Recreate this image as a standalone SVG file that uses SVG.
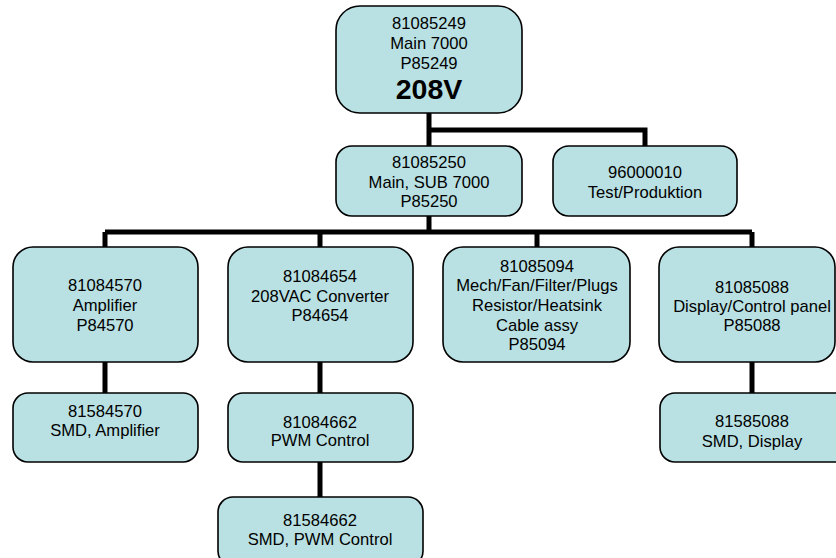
<svg xmlns="http://www.w3.org/2000/svg" width="836" height="558" viewBox="0 0 836 558">
<style>
.box{fill:#B9E0E3;stroke:#000;stroke-width:1.6}
.t{font-family:"Liberation Sans",Arial,sans-serif;font-size:16.6px;fill:#000;text-anchor:middle}
.big{font-family:"Liberation Sans",Arial,sans-serif;font-size:28.5px;font-weight:bold;fill:#000;text-anchor:middle}
.c{stroke:#000;stroke-width:5;fill:none}
</style>
<rect width="836" height="558" fill="#fff"/>
<g id="connectors">
<path class="c" d="M429 113V146M429 130H645V146M429 216V232M105 232H752M105 232V247M320 232V247M537 232V247M752 232V247M105 362V393M320 362V393M320 462V497M752 362V393"/>
</g>
<g id="n81085249">
<rect class="box" x="336" y="6" width="186" height="107" rx="24"/>
<text class="t" x="429" y="29">81085249</text>
<text class="t" x="429" y="49">Main 7000</text>
<text class="t" x="429" y="69">P85249</text>
<text class="big" x="429" y="99">208V</text>
</g>
<g id="n81085250">
<rect class="box" x="336" y="146" width="186" height="70" rx="16"/>
<text class="t" x="429" y="168">81085250</text>
<text class="t" x="429" y="188">Main, SUB 7000</text>
<text class="t" x="429" y="207">P85250</text>
</g>
<g id="n96000010">
<rect class="box" x="553" y="146" width="184" height="70" rx="16"/>
<text class="t" x="645" y="178">96000010</text>
<text class="t" x="645" y="198">Test/Produktion</text>
</g>
<g id="n81084570">
<rect class="box" x="13" y="247" width="185" height="115" rx="20"/>
<text class="t" x="105" y="291">81084570</text>
<text class="t" x="105" y="311">Amplifier</text>
<text class="t" x="105" y="331">P84570</text>
</g>
<g id="n81084654">
<rect class="box" x="228" y="247" width="185" height="115" rx="20"/>
<text class="t" x="320" y="282">81084654</text>
<text class="t" x="320" y="302">208VAC Converter</text>
<text class="t" x="320" y="321">P84654</text>
</g>
<g id="n81085094">
<rect class="box" x="443" y="247" width="187" height="115" rx="20"/>
<text class="t" x="537" y="272">81085094</text>
<text class="t" x="537" y="291">Mech/Fan/Filter/Plugs</text>
<text class="t" x="537" y="311">Resistor/Heatsink</text>
<text class="t" x="537" y="331">Cable assy</text>
<text class="t" x="537" y="350">P85094</text>
</g>
<g id="n81085088">
<rect class="box" x="659" y="247" width="176" height="115" rx="20"/>
<text class="t" x="752" y="293">81085088</text>
<text class="t" x="752" y="312">Display/Control panel</text>
<text class="t" x="752" y="331">P85088</text>
</g>
<g id="n81584570">
<rect class="box" x="13" y="393" width="185" height="69" rx="15"/>
<text class="t" x="105" y="417">81584570</text>
<text class="t" x="105" y="436">SMD, Amplifier</text>
</g>
<g id="n81084662">
<rect class="box" x="228" y="393" width="185" height="69" rx="15"/>
<text class="t" x="320" y="428">81084662</text>
<text class="t" x="320" y="446">PWM Control</text>
</g>
<g id="n81584662">
<rect class="box" x="218" y="497" width="205" height="69" rx="15"/>
<text class="t" x="320" y="526">81584662</text>
<text class="t" x="320" y="545">SMD, PWM Control</text>
</g>
<g id="n81585088">
<rect class="box" x="660" y="393" width="190" height="69" rx="15"/>
<text class="t" x="752" y="427">81585088</text>
<text class="t" x="752" y="447">SMD, Display</text>
</g>
</svg>
